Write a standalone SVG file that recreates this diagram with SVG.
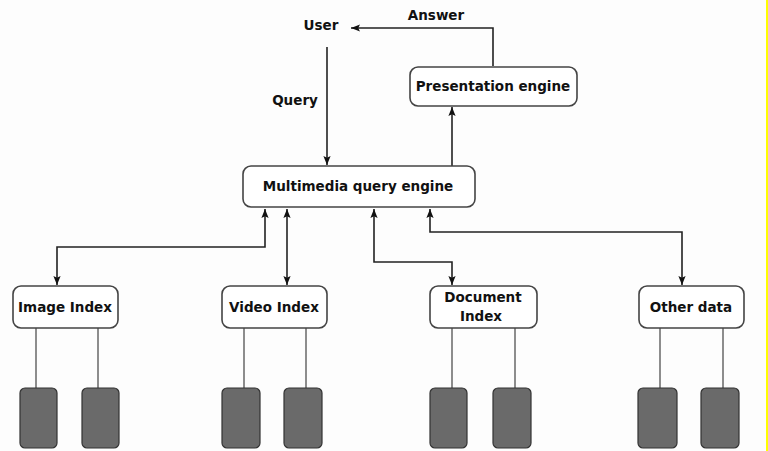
<svg xmlns="http://www.w3.org/2000/svg" width="768" height="451" viewBox="0 0 768 451">
<style>
.box{fill:#ffffff;stroke:#444;stroke-width:1.6}
.store{fill:#6a6a6a;stroke:#333;stroke-width:1.2}
.t{font-family:"DejaVu Sans",sans-serif;font-weight:bold;font-size:13.5px;fill:#111;text-anchor:middle}
.c{fill:none;stroke:#222;stroke-width:1.6}
.s{fill:none;stroke:#444;stroke-width:1.2}
</style>
<defs>
<marker id="ah" viewBox="0 0 10 10" refX="10" refY="5" markerWidth="9" markerHeight="9" orient="auto-start-reverse" markerUnits="userSpaceOnUse">
<path d="M0,1 L10,5 L0,9 L2,5 Z" fill="#111"/>
</marker>
</defs>
<rect width="768" height="451" fill="#fdfdfd"/>
<line x1="767" y1="0" x2="767" y2="451" stroke="#ffff00" stroke-width="2"/>
<g id="connectors">
<path class="c" d="M493,66 V28 H351" marker-end="url(#ah)"/>
<path class="c" d="M327,47 V165" marker-end="url(#ah)"/>
<path class="c" d="M452,166 V107" marker-end="url(#ah)"/>
<path class="c" d="M265,209 V247 H57 V285" marker-start="url(#ah)" marker-end="url(#ah)"/>
<path class="c" d="M287,209 V285" marker-start="url(#ah)" marker-end="url(#ah)"/>
<path class="c" d="M374,209 V262 H452 V285" marker-start="url(#ah)" marker-end="url(#ah)"/>
<path class="c" d="M430,209 V232 H682 V285" marker-start="url(#ah)" marker-end="url(#ah)"/>
<path class="s" d="M36,328 V388 M98,328 V388 M244,328 V388 M306,328 V388 M452,328 V388 M515,328 V388 M660,328 V388 M723,328 V388"/>
</g>
<g id="user"><text class="t" x="321" y="30">User</text></g>
<g id="answer-label"><text class="t" x="436" y="20">Answer</text></g>
<g id="query-label"><text class="t" x="295" y="105">Query</text></g>
<g id="presentation"><rect class="box" x="410" y="67" width="167" height="39" rx="8"/><text class="t" x="493" y="91">Presentation engine</text></g>
<g id="multimedia"><rect class="box" x="243" y="166" width="232" height="41" rx="8"/><text class="t" x="358" y="191">Multimedia query engine</text></g>
<g id="image"><rect class="box" x="13" y="286" width="105" height="42" rx="8"/><text class="t" x="65" y="312">Image Index</text>
<rect class="store" x="20" y="388" width="37" height="60" rx="5"/><rect class="store" x="82" y="388" width="37" height="60" rx="5"/></g>
<g id="video"><rect class="box" x="222" y="286" width="105" height="42" rx="8"/><text class="t" x="274" y="312">Video Index</text>
<rect class="store" x="222" y="388" width="38" height="60" rx="5"/><rect class="store" x="284" y="388" width="38" height="60" rx="5"/></g>
<g id="document"><rect class="box" x="430" y="286" width="107" height="42" rx="8"/><text class="t" x="483" y="302">Document</text><text class="t" x="481" y="321">Index</text>
<rect class="store" x="430" y="388" width="37" height="60" rx="5"/><rect class="store" x="493" y="388" width="38" height="60" rx="5"/></g>
<g id="other"><rect class="box" x="639" y="286" width="105" height="42" rx="8"/><text class="t" x="691" y="312">Other data</text>
<rect class="store" x="638" y="388" width="39" height="60" rx="5"/><rect class="store" x="701" y="388" width="38" height="60" rx="5"/></g>
</svg>
